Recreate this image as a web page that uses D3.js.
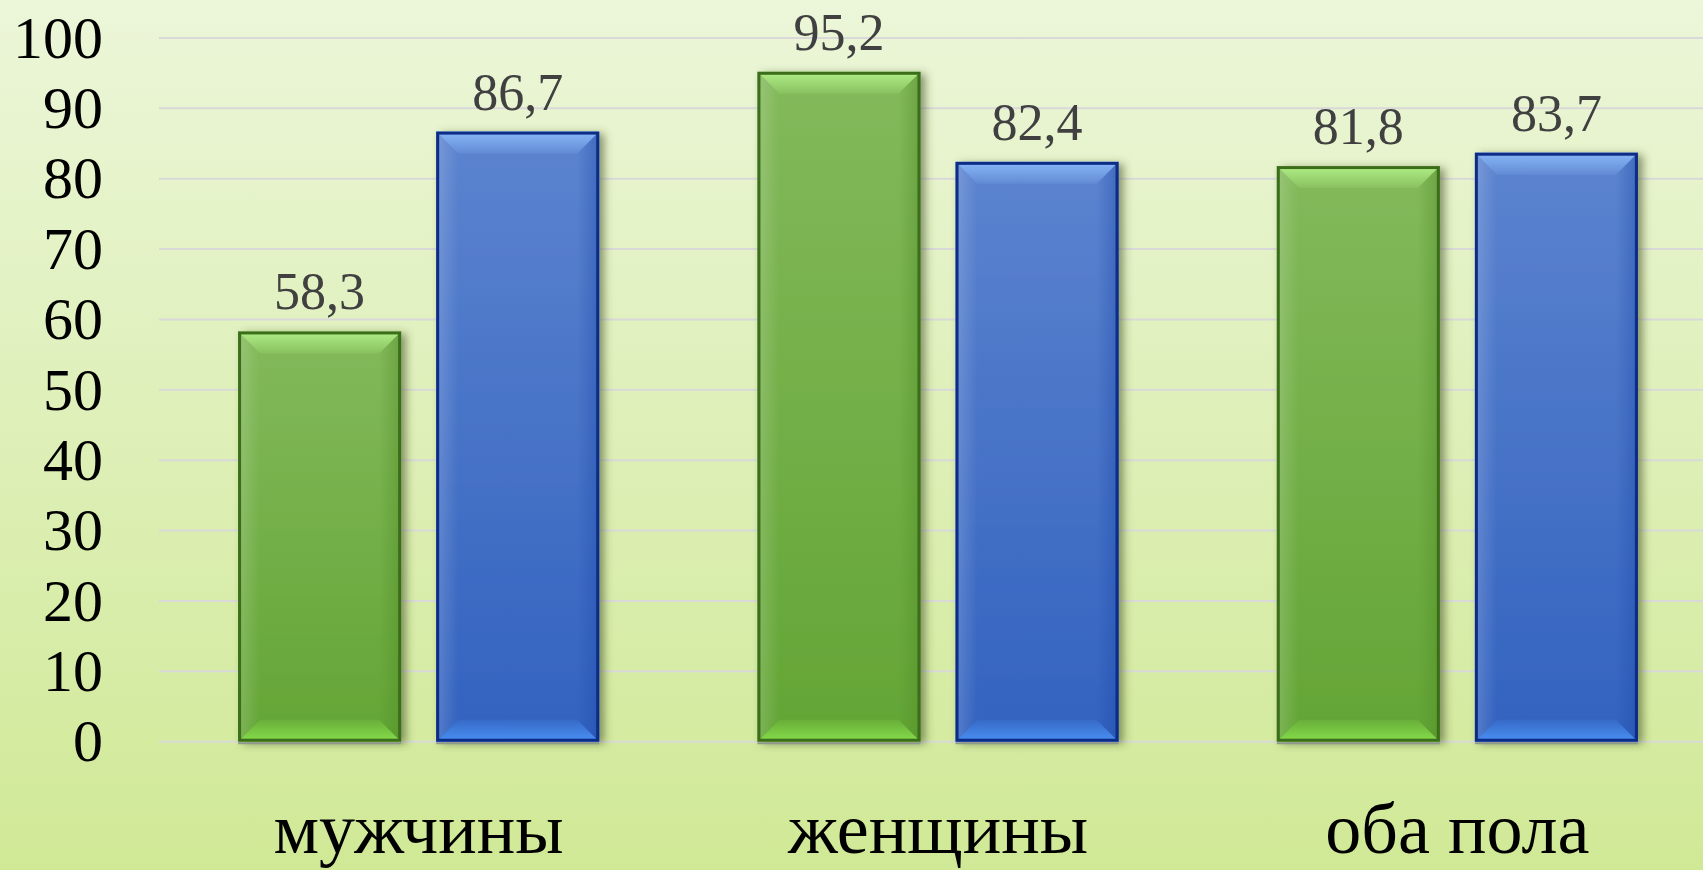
<!DOCTYPE html>
<html><head><meta charset="utf-8">
<script src="https://cdn.jsdelivr.net/npm/d3@7/dist/d3.min.js"></script>
<style>html,body{margin:0;padding:0;overflow:hidden;background:#dcefb5}</style>
</head><body><div id="chart"></div>
<script>
const categories = ["мужчины", "женщины", "оба пола"];
const seriesNames = ["s1", "s2"];
const series1 = [58.3, 95.2, 81.8];
const series2 = [86.7, 82.4, 83.7];
const yTicks = [0, 10, 20, 30, 40, 50, 60, 70, 80, 90, 100];
const valueLabels1 = ["58,3", "95,2", "81,8"];
const valueLabels2 = ["86,7", "82,4", "83,7"];

const W = 1703, H = 870;
const serif = "'Liberation Serif','Times New Roman',serif";
const svg = d3.select("#chart").append("svg").attr("width", W).attr("height", H);
const defs = svg.append("defs");

function vgrad(id, stops, horiz){
  const g = defs.append("linearGradient").attr("id",id).attr("x1",0).attr("y1",0)
    .attr("x2",horiz?1:0).attr("y2",horiz?0:1);
  stops.forEach(s=>g.append("stop").attr("offset",s[0]).attr("stop-color",s[1]).attr("stop-opacity",s[2]===undefined?1:s[2]));
}
vgrad("bg", [["0%","#ecf6d9"],["100%","#d0e996"]]);
svg.append("rect").attr("width",W).attr("height",H).attr("fill","url(#bg)");

const sh = defs.append("filter").attr("id","shadow").attr("x","-20%").attr("y","-20%").attr("width","150%").attr("height","140%");
sh.append("feDropShadow").attr("dx",5).attr("dy",2).attr("stdDeviation",4).attr("flood-color","#3a4a20").attr("flood-opacity",0.55);

const palettes = {
  s1: {top:"#83b95b", bot:"#63a535", border:"#3b6d1b", bevT:"#b8f88e", bevB:"#8ae44e", side:"#4f8a25"},
  s2: {top:"#5c84cf", bot:"#3262bf", border:"#0d2c86", bevT:"#90c0ff", bevB:"#4d96fa", side:"#1f4aa8"}
};
Object.entries(palettes).forEach(([k,p])=>{
  vgrad("main"+k, [["0%",p.top],["100%",p.bot]]);
  vgrad("bt"+k, [["0%",p.bevT,1],["100%",p.bevT,0.15]]);
  vgrad("bb"+k, [["0%",p.bevB,0.15],["100%",p.bevB,1]]);
  vgrad("bl"+k, [["0%","#ffffff",0.18],["100%","#ffffff",0]], true);
  vgrad("br"+k, [["0%",p.side,0],["100%",p.side,0.45]], true);
});

const plotLeft = 159, plotRight = 1717, y0 = 741.7, y100 = 38;
const y = d3.scaleLinear().domain([0,100]).range([y0, y100]);
const x0 = d3.scaleBand().domain(categories).range([plotLeft, plotRight]).paddingInner(0.3047).paddingOuter(0.1523);
const x1 = d3.scaleBand().domain(seriesNames).range([0, x0.bandwidth()]).paddingInner(0.177).paddingOuter(0);

svg.append("g").selectAll("line").data(yTicks).join("line")
  .attr("x1", plotLeft).attr("x2", W)
  .attr("y1", d=>y(d)).attr("y2", d=>y(d))
  .attr("stroke","#d9d9d9").attr("stroke-width",2);

const yAxis = d3.axisLeft(y).tickValues(yTicks).tickSize(0).tickPadding(0);
const ya = svg.append("g").attr("transform","translate(103,0)").call(yAxis);
ya.select(".domain").remove();
ya.selectAll("text").attr("font-family",serif)
  .attr("font-size",60).attr("fill","#000").attr("dy","0.32em").attr("x",0);

const data = [];
categories.forEach((c,i)=>{
  data.push({cat:c, s:"s1", v:series1[i], lab:valueLabels1[i]});
  data.push({cat:c, s:"s2", v:series2[i], lab:valueLabels2[i]});
});

const bars = svg.append("g").selectAll("g").data(data).join("g")
  .attr("transform", d=>`translate(${x0(d.cat)+x1(d.s)},0)`);
const bw = x1.bandwidth();
const bv = 22;
bars.each(function(d){
  const g = d3.select(this);
  const p = palettes[d.s], k = d.s;
  const t = y(d.v), b = y(0), w = bw;
  g.append("rect").attr("x",0).attr("y",t).attr("width",w).attr("height",b-t)
    .attr("fill","url(#main"+k+")").attr("filter","url(#shadow)");
  g.append("polygon").attr("points",`0,${t} ${bv},${t+bv} ${bv},${b-bv} 0,${b}`).attr("fill",`url(#bl${k})`);
  g.append("polygon").attr("points",`${w},${t} ${w-bv},${t+bv} ${w-bv},${b-bv} ${w},${b}`).attr("fill",`url(#br${k})`);
  g.append("polygon").attr("points",`0,${t} ${w},${t} ${w-bv},${t+bv} ${bv},${t+bv}`).attr("fill",`url(#bt${k})`).attr("opacity",0.85);
  g.append("polygon").attr("points",`0,${b} ${w},${b} ${w-bv},${b-bv} ${bv},${b-bv}`).attr("fill",`url(#bb${k})`).attr("opacity",0.9);
  g.append("rect").attr("x",1.5).attr("y",t+1.5).attr("width",w-3).attr("height",b-t-3)
    .attr("fill","none").attr("stroke",p.border).attr("stroke-width",3);
  g.append("line").attr("x1",0).attr("x2",w).attr("y1",b+1.5).attr("y2",b+1.5).attr("stroke","#8f9a8a").attr("stroke-width",2);
  g.append("text").attr("x",w/2).attr("y",t-22).attr("text-anchor","middle")
    .attr("font-family",serif).attr("font-size",52)
    .attr("fill","#404040").text(d.lab);
});

svg.append("g").selectAll("text").data(categories).join("text")
  .attr("x", d=>x0(d)+x0.bandwidth()/2).attr("y", 853)
  .attr("text-anchor","middle")
  .attr("font-family",serif).attr("font-size",72)
  .attr("fill","#000").text(d=>d);
</script></body></html>
